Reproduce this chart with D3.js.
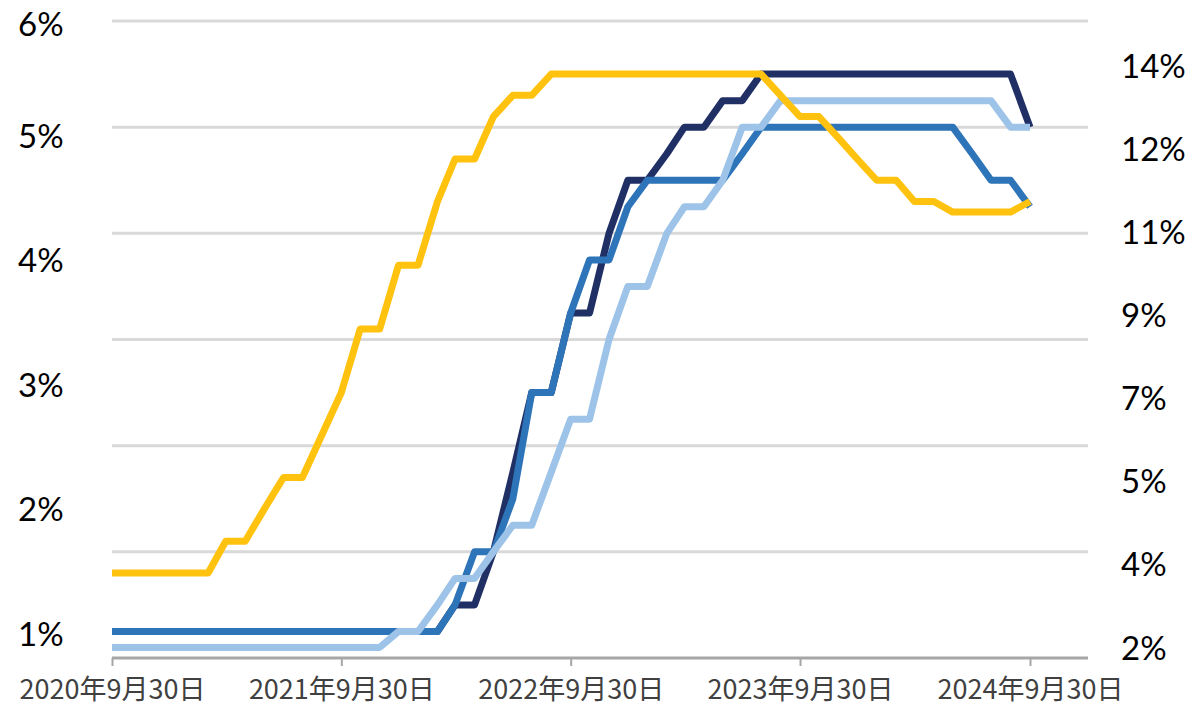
<!DOCTYPE html>
<html>
<head>
<meta charset="utf-8">
<script src="https://cdn.jsdelivr.net/npm/d3@7"></script>
<style>
  body { margin: 0; background: #fff; }
</style>
</head>
<body>
<script>
// month-end dates, Sep 2020 .. Sep 2024
var months = d3.range(49).map(function (i) { return new Date(2020, 8 + i, 30); });

// policy rates (%), month-end values
var navyRates = [0.25,0.25,0.25,0.25,0.25,0.25,0.25,0.25,0.25,0.25,0.25,0.25,
  0.25,0.25,0.25,0.25,0.25,0.25,0.5,0.5,1.0,1.75,2.5,2.5,
  3.25,3.25,4.0,4.5,4.5,4.75,5.0,5.0,5.25,5.25,5.5,5.5,
  5.5,5.5,5.5,5.5,5.5,5.5,5.5,5.5,5.5,5.5,5.5,5.5,5.0];
var blueRates = [0.25,0.25,0.25,0.25,0.25,0.25,0.25,0.25,0.25,0.25,0.25,0.25,
  0.25,0.25,0.25,0.25,0.25,0.25,0.5,1.0,1.0,1.5,2.5,2.5,
  3.25,3.75,3.75,4.25,4.5,4.5,4.5,4.5,4.5,4.75,5.0,5.0,
  5.0,5.0,5.0,5.0,5.0,5.0,5.0,5.0,5.0,4.75,4.5,4.5,4.25];
var lightRates = [0.1,0.1,0.1,0.1,0.1,0.1,0.1,0.1,0.1,0.1,0.1,0.1,
  0.1,0.1,0.1,0.25,0.25,0.5,0.75,0.75,1.0,1.25,1.25,1.75,
  2.25,2.25,3.0,3.5,3.5,4.0,4.25,4.25,4.5,5.0,5.0,5.25,
  5.25,5.25,5.25,5.25,5.25,5.25,5.25,5.25,5.25,5.25,5.25,5.0,5.0];
// right axis series
var yellowRates = [2.0,2.0,2.0,2.0,2.0,2.0,2.75,2.75,3.5,4.25,4.25,5.25,
  6.25,7.75,7.75,9.25,9.25,10.75,11.75,11.75,12.75,13.25,13.25,13.75,
  13.75,13.75,13.75,13.75,13.75,13.75,13.75,13.75,13.75,13.75,13.75,13.25,
  12.75,12.75,12.25,11.75,11.25,11.25,10.75,10.75,10.5,10.5,10.5,10.5,10.75];

var xTicks = [0, 12, 24, 36, 48].map(function (i) { return months[i]; });
var leftLabels = [1, 2, 3, 4, 5, 6];
var rightLabels = d3.range(8).map(function (k) { return 2 + k * 12 / 7; });

var seriesList = [
  { values: navyRates, color: "#203065", axis: "L" },
  { values: blueRates, color: "#2e74b8", axis: "L" },
  { values: lightRates, color: "#9dc4e8", axis: "L" },
  { values: yellowRates, color: "#ffc20e", axis: "R" }
];

var width = 1204, height = 723;
var svg = d3.select("body").append("svg")
  .attr("width", width)
  .attr("height", height);

var x = d3.scaleTime().domain([months[0], months[48]]).range([112, 1030]);
var yL = d3.scaleLinear().domain([0, 6]).range([658, 21]);
var yR = d3.scaleLinear().domain([0, 15]).range([658, 21]);

// label positions as printed on the picture
var yLabL = d3.scaleLinear().domain([1, 5, 6]).range([634, 136, 24]);
var yLabR = d3.scaleLinear().domain([2, 14]).range([648, 66]);

// gridlines
svg.append("g").selectAll("line")
  .data(d3.range(1, 7))
  .enter().append("line")
  .attr("x1", 112).attr("x2", 1088)
  .attr("y1", function (d) { return yL(d); })
  .attr("y2", function (d) { return yL(d); })
  .attr("stroke", "#d9d9d9")
  .attr("stroke-width", 3);

// x axis
var xAxis = svg.append("g")
  .attr("transform", "translate(0," + yL(0) + ")")
  .call(d3.axisBottom(x).tickValues(xTicks).tickSize(8).tickPadding(14)
    .tickFormat(function (d) { return d.getFullYear() + "年" + (d.getMonth() + 1) + "月" + d.getDate() + "日"; }));
xAxis.select(".domain").remove();
xAxis.append("line")
  .attr("x1", 112).attr("x2", 1088)
  .attr("stroke", "#a6a6a6").attr("stroke-width", 3);
xAxis.selectAll(".tick line").attr("stroke", "#a6a6a6").attr("stroke-width", 2);
xAxis.selectAll(".tick text")
  .attr("fill", "#404040")
  .attr("font-family", "'Noto Sans CJK SC', sans-serif")
  .attr("font-size", "27px");

// left labels
svg.append("g").selectAll("text")
  .data(leftLabels)
  .enter().append("text")
  .attr("x", 18)
  .attr("y", function (d) { return yLabL(d); })
  .attr("dy", "0.35em")
  .attr("font-family", "Lato, 'Noto Sans', sans-serif")
  .attr("font-size", "33px")
  .attr("fill", "#000")
  .text(function (d) { return d + "%"; });

// right labels
svg.append("g").selectAll("text")
  .data(rightLabels)
  .enter().append("text")
  .attr("x", 1121)
  .attr("y", function (d) { return yLabR(d); })
  .attr("dy", "0.35em")
  .attr("font-family", "Lato, 'Noto Sans', sans-serif")
  .attr("font-size", "33px")
  .attr("fill", "#000")
  .text(function (d) { return d3.format(".0f")(d) + "%"; });

// lines
seriesList.forEach(function (s) {
  var yScale = s.axis === "L" ? yL : yR;
  var line = d3.line()
    .x(function (d, i) { return x(months[i]); })
    .y(function (d) { return yScale(d); });
  svg.append("path")
    .datum(s.values)
    .attr("d", line)
    .attr("fill", "none")
    .attr("stroke", s.color)
    .attr("stroke-width", 7)
    .attr("stroke-linejoin", "round");
});
</script>
</body>
</html>
